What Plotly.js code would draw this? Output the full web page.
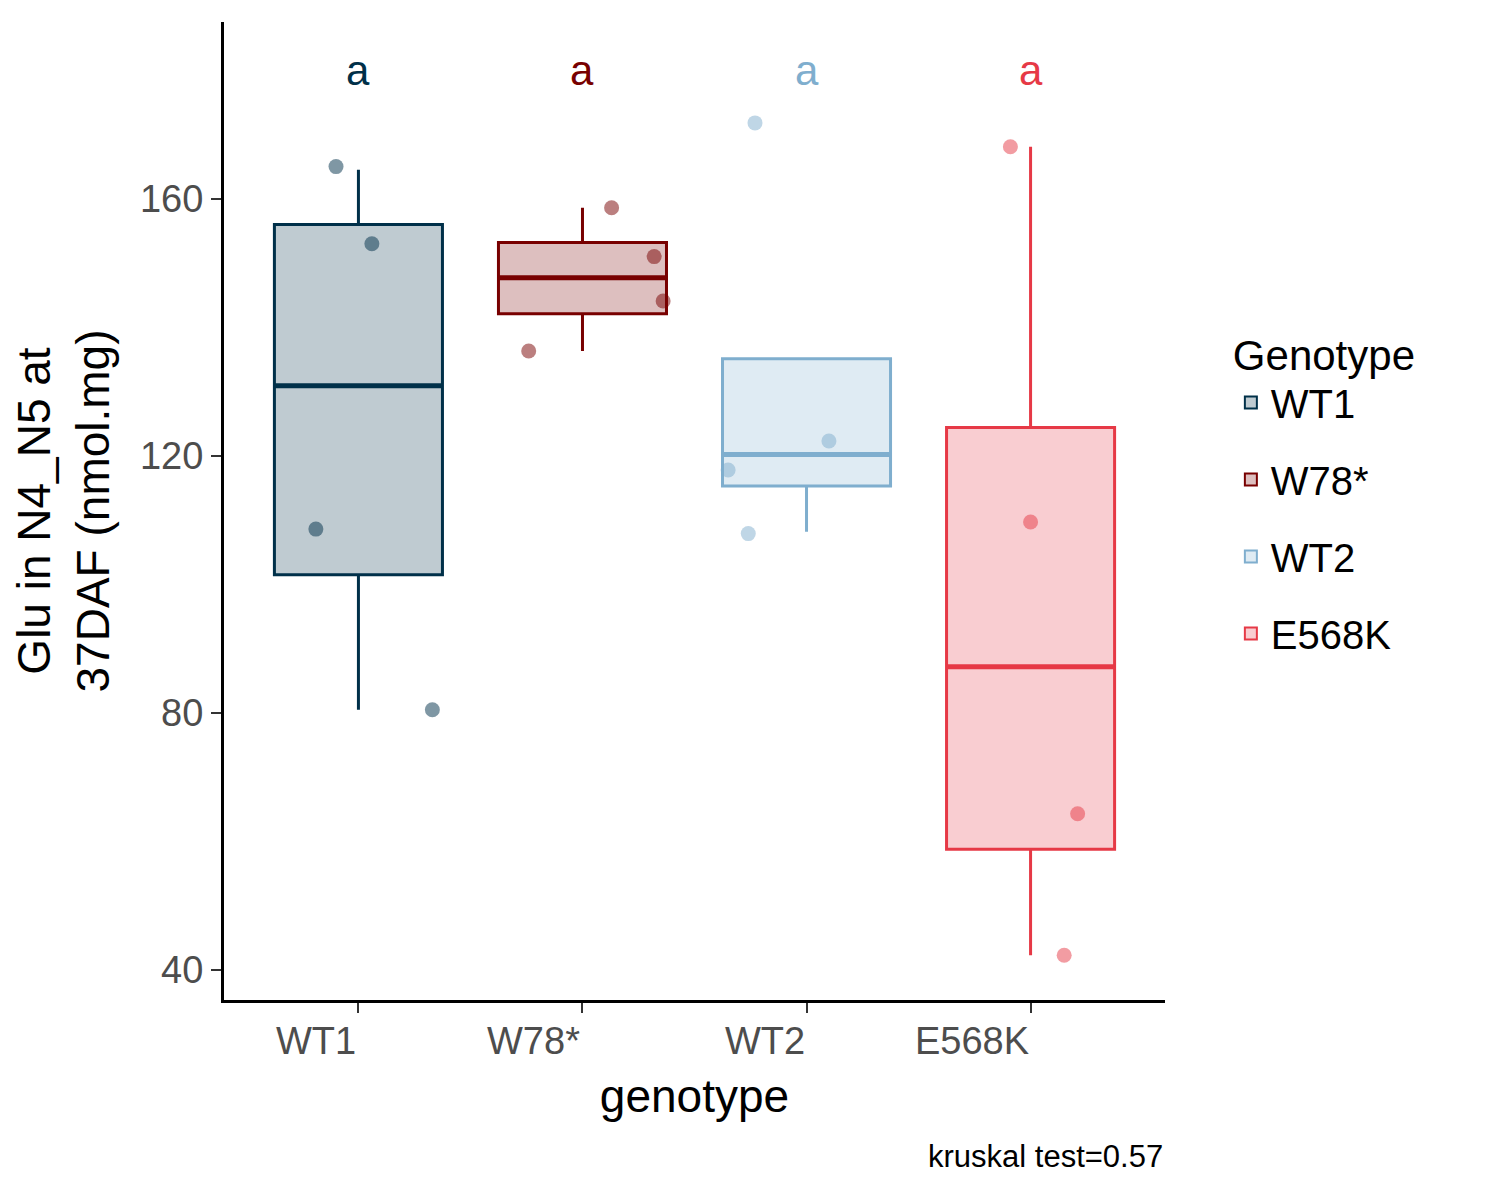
<!DOCTYPE html>
<html>
<head>
<meta charset="utf-8">
<script src="https://cdn.plot.ly/plotly-3.0.1.min.js"></script>
<style>body{margin:0;background:#fff}</style>
</head>
<body>
<div id="chart" style="width:1500px;height:1200px"></div>
<script>
// --- DATA ---
const genotypes = ['WT1', 'W78*', 'WT2', 'E568K'];
const boxColors = ['#003049', '#780000', '#7FAECE', '#E63946'];
const fillColors = ['rgba(0,48,73,0.25)', 'rgba(120,0,0,0.25)', 'rgba(127,174,206,0.25)', 'rgba(230,57,70,0.25)'];
const q1 = [101.5, 142.1, 115.3, 58.8];
const medians = [130.9, 147.7, 120.2, 87.2];
const q3 = [156.0, 153.2, 135.1, 124.4];
const lowerFence = [80.5, 136.3, 108.2, 42.3];
const upperFence = [164.5, 158.6, 135.1, 168.1];
// jittered points: offset from group index, value
const pointX = [
  [-0.10, 0.06, -0.19, 0.33],
  [0.13, 0.32, 0.36, -0.24],
  [-0.23, 0.10, -0.35, -0.26],
  [-0.09, 0.00, 0.21, 0.15]
];
const pointY = [
  [165.0, 153.0, 108.6, 80.5],
  [158.6, 151.0, 144.1, 136.3],
  [171.8, 122.3, 117.8, 107.9],
  [168.1, 109.7, 64.3, 42.3]
];
const letters = ['a', 'a', 'a', 'a'];
const letterY = 180;
const boxWidth = 0.75;

const traces = [];
genotypes.forEach(function(g, i) {
  traces.push({
    type: 'box', name: g, x: [i], legendgroup: g,
    q1: [q1[i]], median: [medians[i]], q3: [q3[i]],
    lowerfence: [lowerFence[i]], upperfence: [upperFence[i]],
    width: boxWidth, boxpoints: false,
    line: { color: boxColors[i], width: 3 },
    fillcolor: fillColors[i],
    whiskerwidth: 0,
    hoverinfo: 'skip'
  });
});
// thicker median bars like ggplot
genotypes.forEach(function(g, i) {
  traces.push({
    type: 'scatter', mode: 'lines', showlegend: false, hoverinfo: 'skip',
    x: [i - boxWidth / 2, i + boxWidth / 2], y: [medians[i], medians[i]],
    line: { color: boxColors[i], width: 5 }
  });
});
genotypes.forEach(function(g, i) {
  traces.push({
    type: 'scatter', mode: 'markers', showlegend: false,
    x: pointX[i].map(function(d) { return i + d; }), y: pointY[i],
    marker: { color: boxColors[i], size: 15, opacity: 0.5 }
  });
});

const annotations = genotypes.map(function(g, i) {
  return { x: i, y: 0, xref: 'x', yref: 'paper', yshift: -18, text: g, showarrow: false,
    xanchor: 'right', yanchor: 'top', font: { size: 38, color: '#4d4d4d' } };
});
letters.forEach(function(l, i) {
  annotations.push({ x: i, y: letterY, xref: 'x', yref: 'y', text: l, showarrow: false,
    font: { size: 42, color: boxColors[i] } });
});
annotations.push({ x: 1, y: -0.14, xref: 'paper', yref: 'paper', text: 'kruskal test=0.57',
  showarrow: false, xanchor: 'right', yanchor: 'top', font: { size: 31, color: '#000' } });

const layout = {
  width: 1500, height: 1200,
  margin: { l: 224, r: 335, t: 22, b: 200 },
  paper_bgcolor: '#fff', plot_bgcolor: '#fff',
  font: { family: 'Liberation Sans, Arial, sans-serif', color: '#000' },
  xaxis: {
    range: [-0.6, 3.6], tickvals: [0, 1, 2, 3], showticklabels: false,
    showline: true, linecolor: '#000', linewidth: 3, ticks: 'outside', ticklen: 10,
    tickcolor: '#333', tickwidth: 2, showgrid: false, zeroline: false,
    title: { text: 'genotype', font: { size: 46 }, standoff: 68 }
  },
  yaxis: {
    range: [35.33, 187.5], tickvals: [40, 80, 120, 160],
    showline: true, linecolor: '#000', linewidth: 3, ticks: 'outside', ticklen: 10,
    tickcolor: '#333', tickwidth: 2, showgrid: false, zeroline: false,
    tickfont: { size: 38, color: '#4d4d4d' },
    title: { text: 'Glu in N4_N5 at<br>37DAF (nmol.mg)', font: { size: 46 }, standoff: 16 }
  },
  showlegend: true,
  legend: {
    x: 1.07, y: 0.70, xanchor: 'left', yanchor: 'top',
    title: { text: 'Genotype', font: { size: 42 } },
    font: { size: 40 }, itemsizing: 'constant', tracegroupgap: 22
  },
  annotations: annotations
};

Plotly.newPlot('chart', traces, layout, { displayModeBar: false });
</script>
</body>
</html>
